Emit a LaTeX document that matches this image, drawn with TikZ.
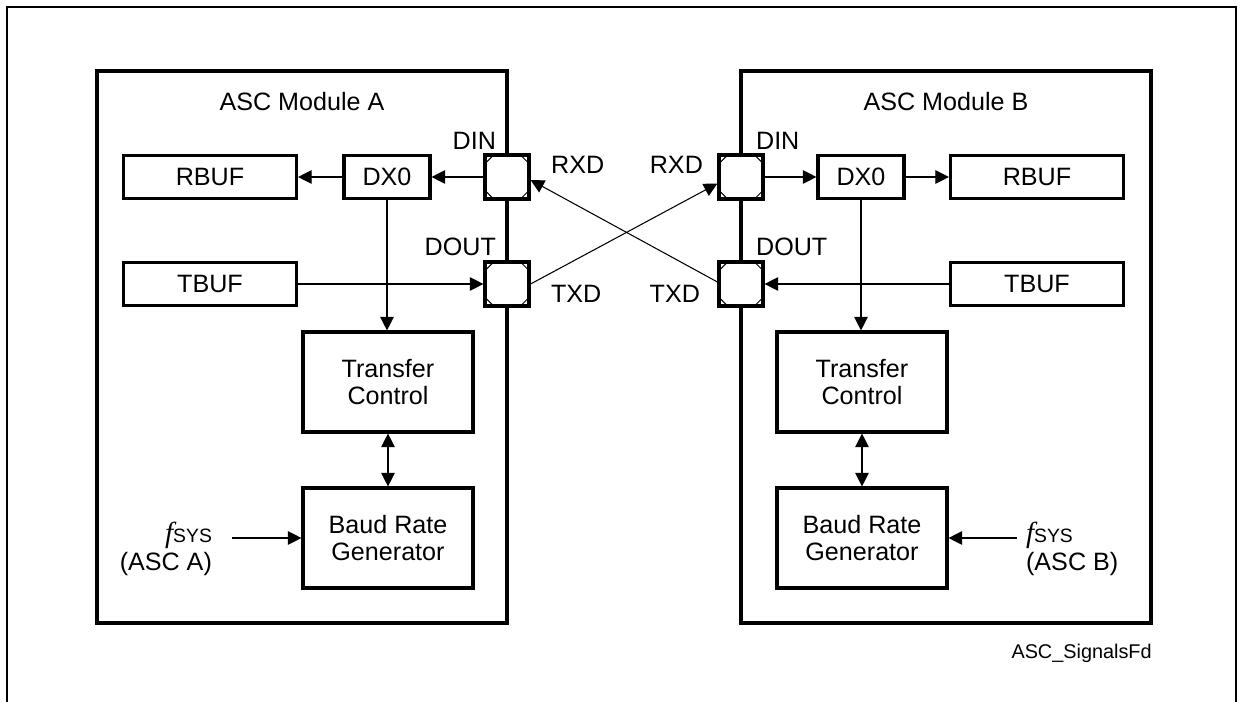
\documentclass[tikz,border=0pt]{standalone}
\usepackage{fontspec}
\setmainfont{Liberation Sans}
\newfontfamily\fsysfont{Liberation Serif}
\usetikzlibrary{arrows.meta,positioning,calc}
\tikzset{
  frame/.style={draw,line width=1.5pt},
  modbox/.style={draw,line width=2.2pt,minimum width=8.2cm,minimum height=11.04cm,inner sep=0pt},
  blk/.style={draw,line width=1.8pt,fill=white,minimum width=3.46cm,minimum height=0.86cm,inner sep=0pt},
  dxbox/.style={blk,minimum width=1.72cm},
  ctlbox/.style={blk,minimum width=3.4cm,minimum height=2cm,align=center},
  pin/.style={draw,line width=1.8pt,fill=white,minimum size=0.88cm,inner sep=0pt,
    path picture={
      \draw[line width=0.6pt]
        ([yshift=-0.17cm]path picture bounding box.north west) -- ([xshift=0.17cm]path picture bounding box.north west)
        ([yshift=-0.17cm]path picture bounding box.north east) -- ([xshift=-0.17cm]path picture bounding box.north east)
        ([yshift=0.17cm]path picture bounding box.south west) -- ([xshift=0.17cm]path picture bounding box.south west)
        ([yshift=0.17cm]path picture bounding box.south east) -- ([xshift=-0.17cm]path picture bounding box.south east);
    }},
  lbl/.style={inner sep=1pt},
  sig/.style={-{Triangle[length=0.27cm,width=0.27cm]},line width=0.6pt},
  bisig/.style={{Triangle[length=0.27cm,width=0.27cm]}-{Triangle[length=0.27cm,width=0.27cm]},line width=0.6pt},
}
\newcommand{\fsys}{{\fsysfont\itshape\fontsize{16.5}{16}\selectfont f}{\fontsize{11}{11}\selectfont SYS}}

\begin{document}
\begin{tikzpicture}[x=0.02cm,y=-0.02cm,font=\fontsize{14.3}{15.8}\selectfont]
  \useasboundingbox (0,0) rectangle (1241,702);
  \draw[frame] (7,730) -- (7,7) -- (1236,7) -- (1236,730);

  % module A
  \node[modbox] (modA) at (302,347) {};
  \node (titA) at (302,102) {ASC Module A};
  \node[blk] (rbufA) at (210,177) {RBUF};
  \node[dxbox] (dxA) at (387,177) {DX0};
  \node[blk] (tbufA) at (210,284) {TBUF};
  \node[ctlbox] (ctlA) at (388,382) {Transfer\\Control};
  \node[ctlbox] (brgA) at (388,538) {Baud Rate\\Generator};
  \node[pin] (dinA) at (507,177) {};
  \node[pin] (doutA) at (507,284) {};
  \node[lbl,anchor=east] (dinAl) at (498,141) {DIN};
  \node[lbl,anchor=east] (doutAl) at (498,247) {DOUT};
  \node[lbl,anchor=west] (rxdAl) at (549,165) {RXD};
  \node[lbl,anchor=west] (txdAl) at (549,294) {TXD};
  \node[lbl,anchor=east,align=right] (fsysA) at (214,549) {\fsys\\(ASC A)};
  \coordinate (clkA) at (232,538);

  % module B
  \node[modbox] (modB) at (946,347) {};
  \node (titB) at (946,102) {ASC Module B};
  \node[dxbox] (dxB) at (861,177) {DX0};
  \node[blk] (rbufB) at (1037,177) {RBUF};
  \node[blk] (tbufB) at (1037,284) {TBUF};
  \node[ctlbox] (ctlB) at (862,382) {Transfer\\Control};
  \node[ctlbox] (brgB) at (862,538) {Baud Rate\\Generator};
  \node[pin] (dinB) at (741,177) {};
  \node[pin] (doutB) at (741,284) {};
  \node[lbl,anchor=west] (dinBl) at (754,141) {DIN};
  \node[lbl,anchor=west] (doutBl) at (754,247) {DOUT};
  \node[lbl,anchor=east] (rxdBl) at (705,165) {RXD};
  \node[lbl,anchor=east] (txdBl) at (702,294) {TXD};
  \node[lbl,anchor=west,align=left] (fsysB) at (1024,549) {\fsys\\(ASC B)};
  \coordinate (clkB) at (1017,538);

  % signals inside A
  \draw[sig] (dinA.west) -- (dxA.east);
  \draw[sig] (dxA.west) -- (rbufA.east);
  \draw[sig] (tbufA.east) -- (doutA.west);
  \draw[sig] (dxA.south) -- (dxA.south |- ctlA.north);
  \draw[bisig] (ctlA.south) -- (brgA.north);
  \draw[sig] (clkA) -- (brgA.west);

  % signals inside B
  \draw[sig] (dinB.east) -- (dxB.west);
  \draw[sig] (dxB.east) -- (rbufB.west);
  \draw[sig] (tbufB.west) -- (doutB.east);
  \draw[sig] (dxB.south) -- (dxB.south |- ctlB.north);
  \draw[bisig] (ctlB.south) -- (brgB.north);
  \draw[sig] (clkB) -- (brgB.east);

  % crossed link
  \draw[sig] (doutA.east) -- ([yshift=-0.13cm]dinB.west);
  \draw[sig] ([yshift=0.04cm]doutB.west) -- ([yshift=-0.06cm]dinA.east);

  \node[anchor=east,inner sep=0pt,font=\fontsize{11.3}{13}\selectfont] (figid) at (1152,653) {ASC\_SignalsFd};
\end{tikzpicture}
\end{document}
